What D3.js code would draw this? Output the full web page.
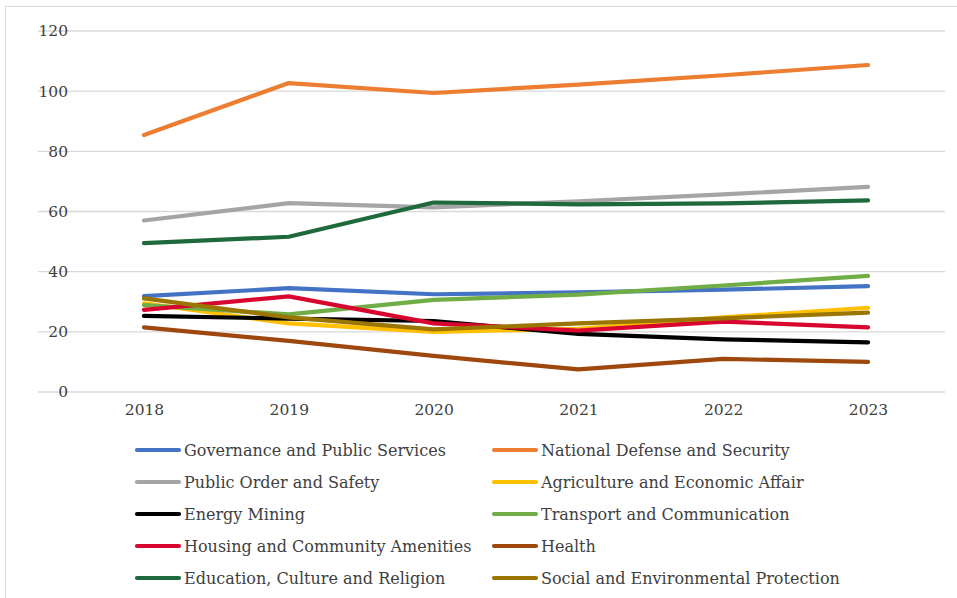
<!DOCTYPE html>
<html><head><meta charset="utf-8">
<script src="https://cdn.jsdelivr.net/npm/d3@7"></script>
<style>body{margin:0;background:#fff}svg{display:block}text{font-family:"DejaVu Serif",serif;fill:#404040}</style>
</head><body><svg id="c" width="957" height="598"></svg>
<script>
const years = [2018, 2019, 2020, 2021, 2022, 2023];
const yTicks = [0, 20, 40, 60, 80, 100, 120];
const seriesNames = ["Governance and Public Services","National Defense and Security","Public Order and Safety","Agriculture and Economic Affair","Energy Mining","Transport and Communication","Housing and Community Amenities","Health","Education, Culture and Religion","Social and Environmental Protection"];
const governance = [31.9, 34.5, 32.5, 33.1, 34.0, 35.2];
const defense = [85.4, 102.7, 99.4, 102.2, 105.3, 108.7];
const publicOrder = [57.0, 62.8, 61.4, 63.4, 65.7, 68.2];
const agriculture = [29.5, 22.8, 20.0, 21.0, 24.8, 28.0];
const energy = [25.3, 24.4, 23.6, 19.3, 17.5, 16.5];
const transport = [28.9, 25.8, 30.6, 32.4, 35.4, 38.6];
const housing = [27.3, 31.8, 22.8, 20.4, 23.4, 21.5];
const health = [21.5, 17.0, 12.0, 7.5, 11.0, 10.0];
const education = [49.5, 51.6, 63.0, 62.4, 62.7, 63.7];
const social = [31.1, 24.8, 20.8, 22.8, 24.5, 26.4];
const colors = ["#4472C4","#ED7D31","#A5A5A5","#FFC000","#000000","#70AD47","#D8062E","#9E480E","#1E6A3C","#9A7500"];
const values = [governance, defense, publicOrder, agriculture, energy, transport, housing, health, education, social];

const svg = d3.select("#c");
svg.append("rect").attr("x",5.5).attr("y",6.5).attr("width",960).attr("height",600).attr("fill","none").attr("stroke","#d9d9d9");

const x = d3.scalePoint().domain(years).range([144, 868]);
const y = d3.scaleLinear().domain([0,120]).range([392, 31]);

svg.append("g").selectAll("line").data(yTicks).join("line")
  .attr("x1",38).attr("x2",945).attr("y1",d=>y(d)).attr("y2",d=>y(d))
  .attr("stroke","#d9d9d9").attr("stroke-width",1.3);

const yAxis = svg.append("g").attr("transform","translate(38,0)")
  .call(d3.axisLeft(y).tickValues(yTicks).tickSize(0));
yAxis.select(".domain").remove();
yAxis.selectAll("text").attr("text-anchor","end").attr("x",30).style("font-size","15.5px").attr("fill","#404040");

const xAxis = svg.append("g").attr("transform","translate(0,392)")
  .call(d3.axisBottom(x).tickSize(0).tickPadding(12).tickFormat(d3.format("d")));
xAxis.select(".domain").remove();
xAxis.selectAll("text").style("font-size","15.5px").attr("fill","#404040");

const line = d3.line().x((d,i)=>x(years[i])).y(d=>y(d));
svg.append("g").selectAll("path").data(values).join("path")
  .attr("d",line).attr("fill","none").attr("stroke",(d,i)=>colors[i])
  .attr("stroke-width",4.2).attr("stroke-linecap","round").attr("stroke-linejoin","round");

const lg = svg.append("g");
seriesNames.forEach((n,i)=>{
  const col = i%2, row = Math.floor(i/2);
  const lx = col===0 ? 137 : 494;
  const ly = 450 + row*32;
  lg.append("line").attr("x1",lx).attr("x2",lx+42).attr("y1",ly).attr("y2",ly)
    .attr("stroke",colors[i]).attr("stroke-width",4.2).attr("stroke-linecap","round");
  lg.append("text").attr("x",lx+47).attr("y",ly).attr("dy","0.35em")
    .style("font-size","16px").text(n);
});
</script></body></html>
